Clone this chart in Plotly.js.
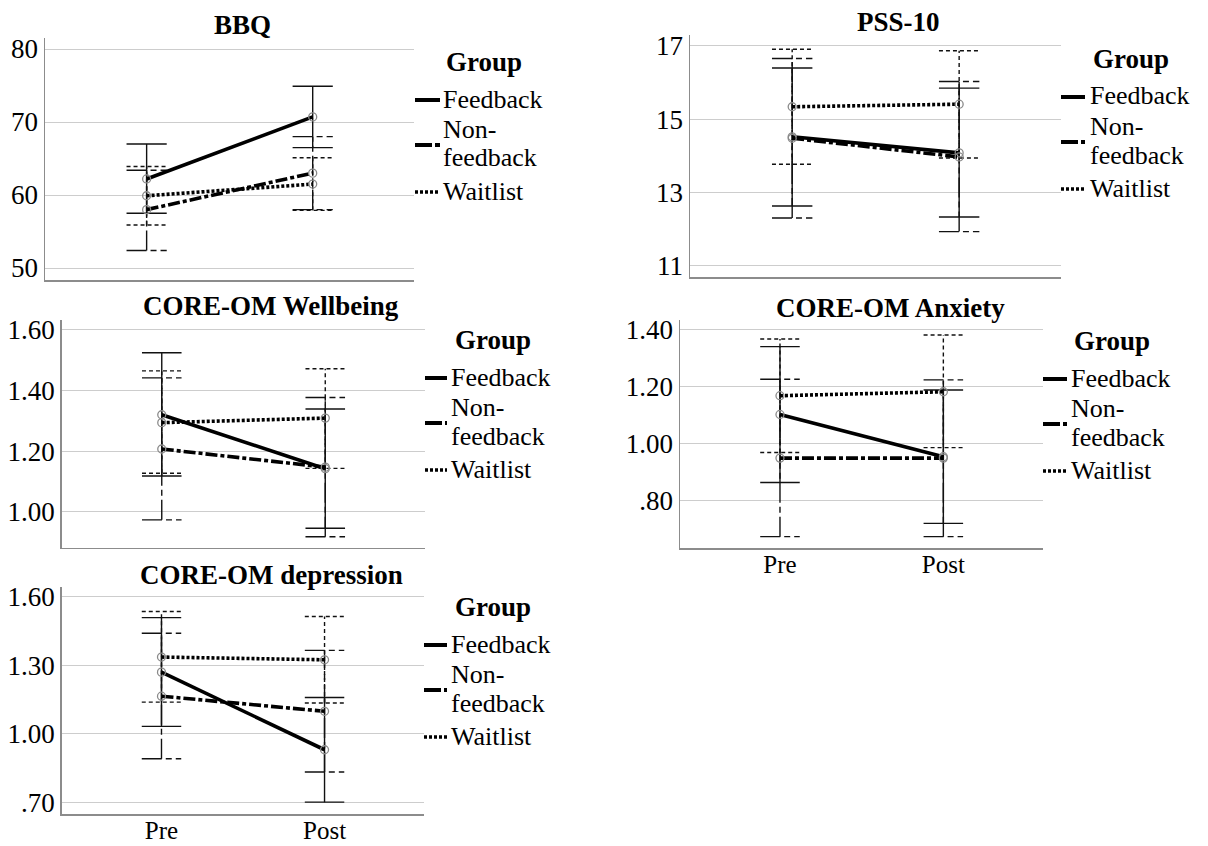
<!DOCTYPE html>
<html><head><meta charset="utf-8">
<script src="https://cdn.plot.ly/plotly-3.0.1.min.js"></script>
<style>html,body{margin:0;padding:0;background:#fff}#chart{width:1208px;height:846px}</style>
</head><body><div id="chart"></div>
<script>
// ---------- data ----------
const times = ['Pre', 'Post'];
const groups = ['Feedback', 'Non-feedback', 'Waitlist'];
const groupLabels = [['Feedback'], ['Non-', 'feedback'], ['Waitlist']];
const legendTitle = 'Group';
const panelTitles = ['BBQ', 'PSS-10', 'CORE-OM Wellbeing', 'CORE-OM Anxiety', 'CORE-OM depression'];

// rows: Feedback, Non-feedback, Waitlist ; columns: Pre, Post
const bbqMean  = [[62.2, 70.7], [58.0, 63.0], [59.9, 61.5]];
const bbqLower = [[57.5, 66.5], [52.4, 58.0], [55.9, 57.9]];
const bbqUpper = [[67.0, 74.9], [63.4, 68.0], [63.9, 65.1]];
const bbqTicks = [50, 60, 70, 80];
const bbqTickText = ['50', '60', '70', '80'];

const pssMean  = [[14.52, 14.08], [14.48, 13.97], [15.34, 15.41]];
const pssLower = [[12.63, 12.33], [12.30, 11.93], [13.77, 13.94]];
const pssUpper = [[16.40, 15.85], [16.66, 16.03], [16.91, 16.87]];
const pssTicks = [11, 13, 15, 17];
const pssTickText = ['11', '13', '15', '17'];

const wellMean  = [[1.320, 1.142], [1.207, 1.147], [1.294, 1.309]];
const wellLower = [[1.118, 0.945], [0.973, 0.917], [1.127, 1.143]];
const wellUpper = [[1.525, 1.339], [1.442, 1.377], [1.465, 1.472]];
const wellTicks = [1.0, 1.2, 1.4, 1.6];
const wellTickText = ['1.00', '1.20', '1.40', '1.60'];

const anxMean  = [[1.102, 0.953], [0.948, 0.948], [1.168, 1.182]];
const anxLower = [[0.862, 0.718], [0.671, 0.671], [0.968, 0.985]];
const anxUpper = [[1.341, 1.188], [1.226, 1.224], [1.368, 1.382]];
const anxTicks = [0.8, 1.0, 1.2, 1.4];
const anxTickText = ['.80', '1.00', '1.20', '1.40'];

const depMean  = [[1.270, 0.931], [1.165, 1.099], [1.336, 1.324]];
const depLower = [[1.033, 0.702], [0.892, 0.834], [1.139, 1.135]];
const depUpper = [[1.508, 1.159], [1.440, 1.365], [1.535, 1.513]];
const depTicks = [0.7, 1.0, 1.3, 1.6];
const depTickText = ['.70', '1.00', '1.30', '1.60'];

// ---------- layout / style ----------
const W = 1208, H = 846;
const FONT = "'Liberation Serif', 'Nimbus Roman', 'DejaVu Serif', serif";
const XR = [-0.612, 1.61];
const CAP = 0.121;
const lineDash = ['solid', '12px,3px,4px,3px', '3px,2px'];
const errDash = ['solid', '20px,4px,6px,4px', '4px,3px'];
const legendDash = ['solid', '17px,3px,5px,3px', '3px,2px'];

const panels = [
  {mean: bbqMean, lower: bbqLower, upper: bbqUpper, ticks: bbqTicks, tt: bbqTickText,
   box: [45, 414, 38, 280], yr: [48.36, 81.51], showX: false,
   title: [242, 25], leg: {sx0: 415, sx1: 440, tx: 442, gx: 444, gy: 62}},
  {mean: pssMean, lower: pssLower, upper: pssUpper, ticks: pssTicks, tt: pssTickText,
   box: [690, 1061, 35, 277], yr: [10.69, 17.30], showX: false,
   title: [898, 22], leg: {sx0: 1061, sx1: 1085, tx: 1089, gx: 1091, gy: 59}},
  {mean: wellMean, lower: wellLower, upper: wellUpper, ticks: wellTicks, tt: wellTickText,
   box: [61.7, 425, 320, 547.7], yr: [0.881, 1.633], showX: false,
   title: [271, 306], leg: {sx0: 425, sx1: 447, tx: 450, gx: 453, gy: 340}},
  {mean: anxMean, lower: anxLower, upper: anxUpper, ticks: anxTicks, tt: anxTickText,
   box: [680, 1043, 320, 548], yr: [0.631, 1.435], showX: true,
   title: [890, 308], leg: {sx0: 1043, sx1: 1067, tx: 1070, gx: 1072, gy: 341}},
  {mean: depMean, lower: depLower, upper: depUpper, ticks: depTicks, tt: depTickText,
   box: [61.7, 424, 587, 814.3], yr: [0.649, 1.642], showX: true,
   title: [271, 575], leg: {sx0: 424, sx1: 447, tx: 450, gx: 453, gy: 607}}
];

const px = v => v / W;
const py = v => 1 - v / H;

const traces = [];
const layout = {
  width: W, height: H, autosize: false,
  margin: {l: 0, r: 0, t: 0, b: 0},
  paper_bgcolor: '#fff', plot_bgcolor: '#fff',
  font: {family: FONT, color: '#000', size: 26},
  showlegend: false,
  annotations: [], shapes: []
};

panels.forEach((p, k) => {
  const sfx = k === 0 ? '' : String(k + 1);
  const xa = 'x' + sfx, ya = 'y' + sfx;
  // error bars (drawn first)
  groups.forEach((g, gi) => {
    const ex = [], ey = [];
    times.forEach((t, ti) => {
      const lo = p.lower[gi][ti], hi = p.upper[gi][ti];
      ex.push(ti, ti, null, ti - CAP, ti + CAP, null, ti - CAP, ti + CAP, null);
      ey.push(lo, hi, null, hi, hi, null, lo, lo, null);
    });
    traces.push({type: 'scatter', mode: 'lines', x: ex, y: ey, xaxis: xa, yaxis: ya,
      name: g + ' 95% CI', line: {color: '#111', width: 1.4, dash: errDash[gi]},
      hoverinfo: 'skip', showlegend: false});
  });
  // mean lines
  groups.forEach((g, gi) => {
    traces.push({type: 'scatter', mode: 'lines+markers', x: times.map((t, i) => i), y: p.mean[gi],
      xaxis: xa, yaxis: ya, name: g, text: times,
      line: {color: '#000', width: 3.6, dash: lineDash[gi]},
      marker: {symbol: 'circle-open', size: 8, color: '#8a8a8a', line: {width: 1.3}},
      showlegend: false});
  });

  const [l, r, t, b] = p.box;
  layout['xaxis' + sfx] = {
    domain: [px(l), px(r)], anchor: ya, range: XR, fixedrange: true,
    tickvals: times.map((t, i) => i), ticktext: times, showticklabels: p.showX,
    showgrid: false, zeroline: false, ticks: '', ticklen: 0,
    showline: true, linecolor: '#8c8c8c', linewidth: 1.5,
    tickfont: {family: FONT, size: 25, color: '#000'}, ticklabelstandoff: -7
  };
  layout['yaxis' + sfx] = {
    domain: [py(b), py(t)], anchor: xa, range: p.yr, fixedrange: true,
    tickvals: p.ticks, ticktext: p.tt,
    showgrid: true, gridcolor: '#cdcdcd', gridwidth: 1, zeroline: false, ticks: '', ticklen: 0,
    showline: true, linecolor: '#8c8c8c', linewidth: 1.5,
    tickfont: {family: FONT, size: 27, color: '#000'}
  };

  // panel title
  layout.annotations.push({xref: 'paper', yref: 'paper', x: px(p.title[0]), y: py(p.title[1]),
    xanchor: 'center', yanchor: 'middle', showarrow: false,
    text: '<b>' + panelTitles[k] + '</b>', font: {family: FONT, size: 27, color: '#000'}});

  // legend
  const L = p.leg;
  layout.annotations.push({xref: 'paper', yref: 'paper', x: px(L.gx), y: py(L.gy),
    xanchor: 'left', yanchor: 'middle', showarrow: false,
    text: '<b>' + legendTitle + '</b>', font: {family: FONT, size: 27, color: '#000'}});
  const textY = [[L.gy + 37], [L.gy + 67, L.gy + 96], [L.gy + 129]];
  const sampleY = [L.gy + 38, L.gy + 83, L.gy + 130];
  groups.forEach((g, gi) => {
    groupLabels[gi].forEach((lab, li) => {
      layout.annotations.push({xref: 'paper', yref: 'paper', x: px(L.tx), y: py(textY[gi][li]),
        xanchor: 'left', yanchor: 'middle', showarrow: false, borderpad: 0,
        text: lab, font: {family: FONT, size: 26, color: '#000'}});
    });
    layout.shapes.push({type: 'line', xref: 'paper', yref: 'paper',
      x0: px(L.sx0), x1: px(L.sx1), y0: py(sampleY[gi]), y1: py(sampleY[gi]),
      line: {color: '#000', width: gi === 2 ? 3.5 : 4, dash: legendDash[gi]}});
  });
});

Plotly.newPlot('chart', traces, layout, {displayModeBar: false, staticPlot: true});
</script>
</body></html>
